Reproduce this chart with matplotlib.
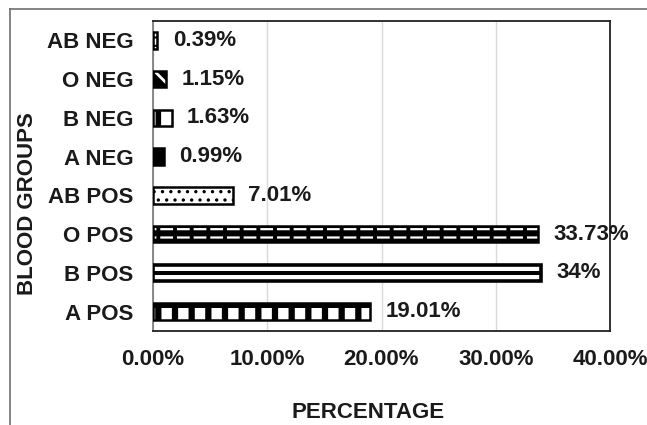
import matplotlib
matplotlib.use("Agg")
import matplotlib.pyplot as plt
from matplotlib.lines import Line2D

plt.rcParams['font.family'] = ['Liberation Sans', 'DejaVu Sans']
plt.rcParams['font.weight'] = 'bold'

groups = ["A POS", "B POS", "O POS", "AB POS", "A NEG", "B NEG", "O NEG", "AB NEG"]
percent = [19.01, 34, 33.73, 7.01, 0.99, 1.63, 1.15, 0.39]
x_ticks = [0, 10, 20, 30, 40]

W, H = 647, 425
FS = 16
fig = plt.figure(figsize=(W / 100, H / 100), dpi=100)
ax = fig.add_axes([153 / W, 1 - 331 / H, (610 - 153) / W, (331 - 21) / H])

# outer frame of the figure (top and left edges)
fig.add_artist(Line2D([10 / W, 1], [1 - 9 / H, 1 - 9 / H], transform=fig.transFigure,
                      color="#707070", lw=1.2))
fig.add_artist(Line2D([10 / W, 10 / W], [0, 1 - 9 / H], transform=fig.transFigure,
                      color="#707070", lw=1.2))

bar_h = 0.42
ypos = list(range(len(groups)))


def hatched(y, v, fc, ec, hatch, hlw, z, h=bar_h):
    bars = ax.barh(y, v, height=h, color=fc, edgecolor=ec, hatch=hatch,
                   linewidth=0, zorder=z)
    for p in bars:
        if hasattr(p, "set_hatch_linewidth"):
            p.set_hatch_linewidth(hlw)
    return bars


for y, g, v in zip(ypos, groups, percent):
    edge_lw = 1.8
    if g == "A POS":
        hatched(y, v, "white", "black", "|", 4.5, 3)
        ax.barh(y + bar_h * 0.36, v, height=bar_h * 0.28, color="black", linewidth=0, zorder=4)
    elif g == "B POS":
        # white bar with a black centre stripe
        ax.barh(y, v, height=bar_h, color="white", linewidth=0, zorder=3)
        ax.barh(y, v, height=bar_h * 0.2, color="black", linewidth=0, zorder=4)
        edge_lw = 2.6
    elif g == "O POS":
        ax.barh(y, v, height=bar_h, color="black", linewidth=0, zorder=3)
        hatched(y, v, "none", "white", "--", 1.6, 4, h=bar_h * 0.8)
        hatched(y, v, "none", "black", "|", 2.8, 5)
    elif g == "AB POS":
        hatched(y, v, "white", "black", "..", 1.2, 3)
    elif g == "A NEG":
        ax.barh(y, v, height=bar_h, color="black", linewidth=0, zorder=3)
    elif g == "B NEG":
        hatched(y, v, "white", "black", "|", 4.0, 3)
    elif g == "O NEG":
        ax.barh(y, v, height=bar_h, color="black", linewidth=0, zorder=3)
        hatched(y, v, "none", "white", "\\\\", 2.0, 4)
    else:
        hatched(y, v, "white", "black", "--", 1.5, 3)
    # outline
    ax.barh(y, v, height=bar_h, color="none", edgecolor="black", linewidth=edge_lw, zorder=6)
    ax.annotate(f"{v:g}%", xy=(v, y), xytext=(11, 0), textcoords="offset points",
                va="center", ha="left", fontsize=FS, fontweight="bold", color="#1a1a1a",
                annotation_clip=False)

ax.set_xlim(0, 40)
ax.set_ylim(-0.5, len(groups) - 0.5)
ax.set_xticks(x_ticks)
ax.set_xticklabels([f"{t:.2f}%" for t in x_ticks])
ax.set_yticks(ypos)
ax.set_yticklabels(groups)
ax.tick_params(axis="x", length=0, pad=13, labelsize=FS, labelcolor="#1a1a1a")
ax.tick_params(axis="y", length=0, pad=14, labelsize=FS, labelcolor="#1a1a1a")
ax.grid(axis="x", color="#d9d9d9", linewidth=1.0, zorder=0)
ax.set_axisbelow(True)
for s in ax.spines.values():
    s.set_color("#222222")
    s.set_linewidth(1.3)
ax.spines["left"].set_color("#808080")

fig.text(28 / W, 1 - 204 / H, "BLOOD GROUPS", rotation=90, ha="center", va="center",
         fontsize=FS, fontweight="bold", color="#1a1a1a")
fig.text(368 / W, 1 - 412 / H, "PERCENTAGE", ha="center", va="center",
         fontsize=FS, fontweight="bold", color="#1a1a1a")

fig.savefig("out.png", dpi=100)
